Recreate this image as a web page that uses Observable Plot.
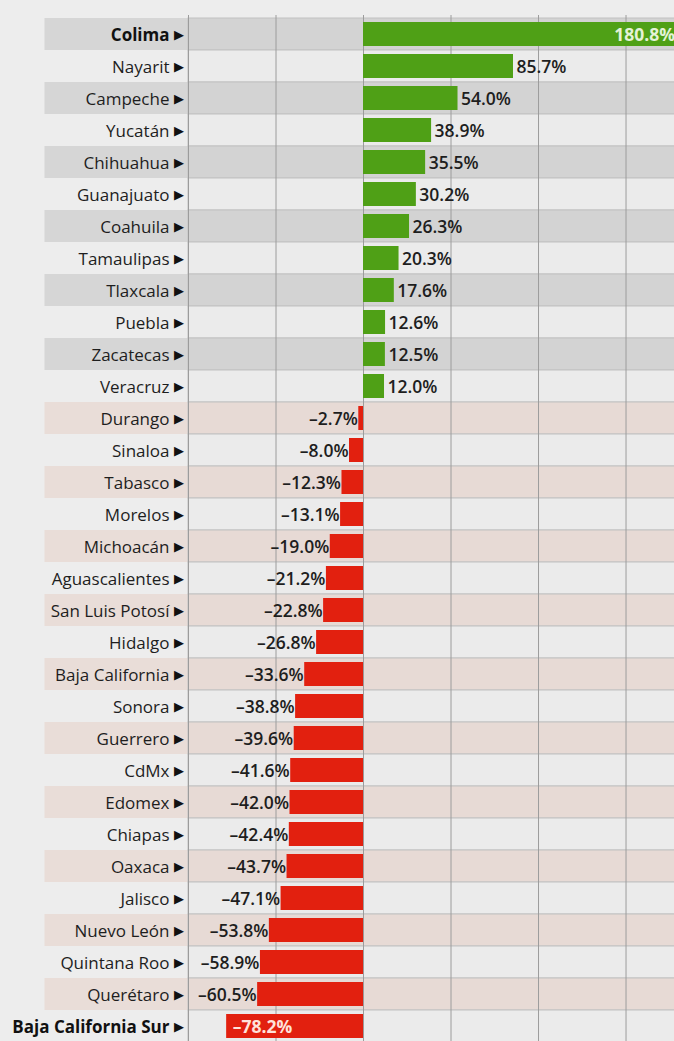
<!DOCTYPE html>
<html>
<head>
<meta charset="utf-8">
<script src="https://cdn.jsdelivr.net/npm/d3@7"></script>
<script src="https://cdn.jsdelivr.net/npm/@observablehq/plot@0.6"></script>
<style>
  html, body { margin: 0; padding: 0; background: #ededed; overflow: hidden; }
  #chart svg { display: block; overflow: visible; }
</style>
</head>
<body>
<div id="chart"></div>
<script>
const states = ["Colima","Nayarit","Campeche","Yucatán","Chihuahua","Guanajuato","Coahuila","Tamaulipas","Tlaxcala","Puebla","Zacatecas","Veracruz","Durango","Sinaloa","Tabasco","Morelos","Michoacán","Aguascalientes","San Luis Potosí","Hidalgo","Baja California","Sonora","Guerrero","CdMx","Edomex","Chiapas","Oaxaca","Jalisco","Nuevo León","Quintana Roo","Querétaro","Baja California Sur"];
const values = [180.8,85.7,54.0,38.9,35.5,30.2,26.3,20.3,17.6,12.6,12.5,12.0,-2.7,-8.0,-12.3,-13.1,-19.0,-21.2,-22.8,-26.8,-33.6,-38.8,-39.6,-41.6,-42.0,-42.4,-43.7,-47.1,-53.8,-58.9,-60.5,-78.2];
const gridTicks = [-100,-50,0,50,100,150];
const highlighted = ["Colima","Baja California Sur"];

const rows = states.map((s, i) => ({state: s, value: values[i], i}));
const fmt = v => (v < 0 ? "–" + Math.abs(v).toFixed(1) : v.toFixed(1)) + "%";
const rowFill = d => d.i % 2 === 0 ? (d.value >= 0 ? "#d3d3d3" : "#e7dad5") : "#ebebeb";
const labelFill = d => d.i % 2 === 0 ? (d.value >= 0 ? "#d6d6d6" : "#e9ddd8") : "none";

const font = "'Open Sans', 'Noto Sans', sans-serif";
const xMin = -100, xMax = 177.7, labelBandStart = -182;

const chart = Plot.plot({
  width: 674,
  height: 1046,
  marginTop: 15,
  marginBottom: 1,
  marginLeft: 188,
  marginRight: 0,
  style: {fontFamily: font, background: "#ededed", overflow: "visible"},
  x: {domain: [xMin, xMax], axis: null},
  y: {domain: states, axis: null, padding: 0},
  marks: [
    Plot.barX(rows, {x1: labelBandStart, x2: xMin, y: "state", fill: labelFill}),
    Plot.barX(rows, {x1: xMin, x2: 260, y: "state", fill: rowFill, stroke: "#c2c2c2", strokeWidth: 1}),
    Plot.ruleX(gridTicks, {stroke: "#9c9c9c", strokeWidth: 1}),
    Plot.barX(rows, {x: "value", y: "state", fill: d => d.value >= 0 ? "#4fa016" : "#e2200f", insetTop: 4, insetBottom: 4}),
    Plot.text(rows.filter(d => d.value >= 0 && d.state !== "Colima"), {x: "value", y: "state", text: d => fmt(d.value), textAnchor: "start", dx: 3, dy: 1, fontSize: 17.5, fontWeight: 600, fill: "#1e1e1e"}),
    Plot.text(rows.filter(d => d.value < 0 && d.state !== "Baja California Sur"), {x: "value", y: "state", text: d => fmt(d.value), textAnchor: "end", dx: -1, dy: 1, fontSize: 17.5, fontWeight: 600, fill: "#1e1e1e"}),
    Plot.text(rows.filter(d => d.state === "Colima"), {x: "value", y: "state", text: d => fmt(d.value), textAnchor: "end", dx: -5, dy: 1, fontSize: 17.5, fontWeight: 700, fill: "#e4f2d6"}),
    Plot.text(rows.filter(d => d.state === "Baja California Sur"), {x: "value", y: "state", text: d => fmt(d.value), textAnchor: "start", dx: 6, dy: 1, fontSize: 17.5, fontWeight: 700, fill: "#ffe2da"}),
    Plot.text(rows.filter(d => !highlighted.includes(d.state)), {x: xMin, y: "state", text: "state", textAnchor: "end", dx: -19, dy: 1, fontSize: 17, fill: "#1e1e1e"}),
    Plot.text(rows.filter(d => highlighted.includes(d.state)), {x: xMin, y: "state", text: "state", textAnchor: "end", dx: -19, dy: 1, fontSize: 17, fontWeight: 700, fill: "#111"}),
    Plot.text(rows, {x: xMin, y: "state", text: () => "▶", textAnchor: "end", dx: -5, dy: 0, fontSize: 13, fill: "#111"})
  ]
});
document.getElementById("chart").appendChild(chart);
</script>
</body>
</html>
